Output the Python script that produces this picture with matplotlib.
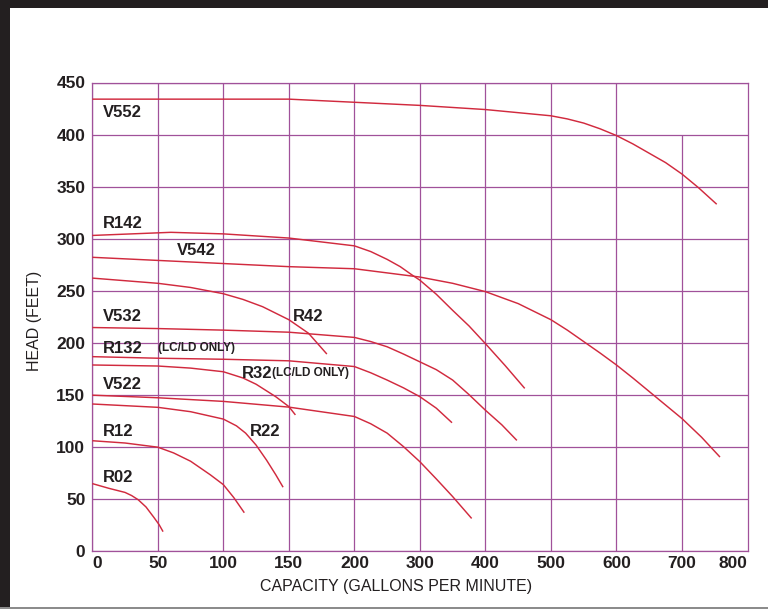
import numpy as np
import matplotlib
matplotlib.use('Agg')
import matplotlib.pyplot as plt
from matplotlib.patches import Rectangle

# ---------------- data (capacity gpm, head feet) ----------------
V552_x = [0, 100, 150, 200, 300, 400, 500, 525, 550, 575, 600, 625, 650, 675, 700, 725, 753]
V552_y = [434, 434, 434, 431, 428, 424, 418, 415, 411, 405.5, 399, 391, 382, 373, 362, 349, 333]

R142_x = [0, 30, 60, 100, 150, 200, 225, 250, 270, 288, 300, 325, 350, 375, 400, 430, 460]
R142_y = [303, 304.5, 306, 304.5, 300.5, 293, 287.5, 280, 273, 265, 260, 246.5, 231, 216, 199, 178, 156]

V542_x = [0, 50, 100, 150, 200, 300, 350, 400, 450, 500, 525, 550, 575, 600, 625, 650, 675, 700, 730, 758]
V542_y = [282, 279, 276, 273, 271, 263, 257, 249, 237.5, 222, 212, 201, 190, 178.5, 166, 153, 140, 127, 109, 90]

R42_x = [0, 50, 75, 100, 115, 130, 150, 165, 179]
R42_y = [262, 257, 253, 247, 241.5, 234.5, 222, 209, 189]

V532_x = [0, 50, 100, 150, 200, 225, 250, 275, 300, 325, 350, 375, 400, 425, 448]
V532_y = [214.5, 213.5, 212, 210, 205, 201, 196, 189, 181.5, 174, 164, 150, 135, 121, 106]

R132_x = [0, 50, 100, 150, 200, 225, 250, 275, 300, 325, 349]
R132_y = [186.5, 185, 184, 182.5, 177, 171, 164, 156.5, 148, 137, 123]

R32_x = [0, 50, 75, 100, 115, 125, 140, 150, 155]
R32_y = [178.5, 177.5, 175.5, 172, 166, 160, 148, 138.5, 130.5]

V522_x = [0, 50, 100, 150, 200, 225, 250, 275, 300, 325, 350, 379]
V522_y = [149.5, 147, 143.5, 138, 129, 122, 113, 100, 85.5, 69, 52, 31]

R22_x = [0, 50, 75, 100, 110, 117, 125, 133, 140, 145.6]
R22_y = [141, 137.8, 133.6, 126.5, 120, 113, 101.5, 87, 73, 61]

R12_x = [0, 25, 50, 62, 75, 90, 100, 108, 116]
R12_y = [105.7, 103.5, 99.5, 94, 86, 73, 63.5, 51, 36.5]

R02_x = [0, 12.5, 25, 30, 35, 41, 47, 51, 54]
R02_y = [64.5, 60, 56, 53, 49, 42, 32, 25, 18.3]

x_ticks = [0, 50, 100, 150, 200, 300, 400, 500, 600, 700, 800]
x_tick_labels = ['0', '50', '100', '150', '200', '300', '400', '500', '600', '700', '800']
y_ticks = [0, 50, 100, 150, 200, 250, 300, 350, 400, 450]
y_tick_labels = ['0', '50', '100', '150', '200', '250', '300', '350', '400', '450']

series = [
    (V552_x, V552_y), (R142_x, R142_y), (V542_x, V542_y), (R42_x, R42_y),
    (V532_x, V532_y), (R132_x, R132_y), (R32_x, R32_y), (V522_x, V522_y),
    (R22_x, R22_y), (R12_x, R12_y), (R02_x, R02_y),
]

# curve labels: (text, x, y, fontsize)
labels = [
    ('V552', 8.2, 421.5, 12), ('R142', 8.2, 314.5, 12), ('V542', 64.4, 289, 12),
    ('V532', 8.2, 225.5, 12), ('R42', 152.7, 225.5, 12), ('R132', 8.2, 194, 12),
    ('(LC/LD ONLY)', 50.2, 194.5, 8.5), ('R32', 114.3, 170.6, 12),
    ('(LC/LD ONLY)', 137.2, 170.6, 8.5), ('V522', 8.2, 159.7, 12),
    ('R12', 8.2, 115, 12), ('R22', 120.6, 115, 12), ('R02', 8.2, 70, 12),
]

# ---------------- scale: 0-200 by 50, 200-800 by 100 at equal spacing ----------------
def fwd(x):
    x = np.asarray(x, dtype=float)
    return np.where(x <= 200, x, 200 + (x - 200) / 2.0)

def inv(x):
    x = np.asarray(x, dtype=float)
    return np.where(x <= 200, x, 200 + (x - 200) * 2.0)

GRID = '#a0519a'
CURVE = '#d12a3e'
TXT = '#231f20'
plt.rcParams['font.family'] = ['Liberation Sans', 'DejaVu Sans']

fig = plt.figure(figsize=(7.68, 6.09), dpi=100)
fig.patch.set_facecolor('white')
ax = fig.add_axes([92.3 / 768, 1 - 550.7 / 609, (747.5 - 92.3) / 768, (550.7 - 82.5) / 609])
ax.set_xscale('function', functions=(fwd, inv))
ax.set_xlim(0, 800)
ax.set_ylim(0, 450)

# grid
for xv in x_ticks[:-2]:
    ax.axvline(xv, color=GRID, lw=0.9, zorder=1)
ax.vlines(700, 0, 400, color=GRID, lw=0.9, zorder=1)
for yv in y_ticks:
    ax.axhline(yv, color=GRID, lw=0.9, zorder=1)
for s in ax.spines.values():
    s.set_color(GRID)
    s.set_linewidth(0.9)

# curves
for xs, ys in series:
    ax.plot(xs, ys, color=CURVE, lw=1.05, zorder=3, solid_capstyle='butt',
            solid_joinstyle='round')

for text, lx, ly, fs in labels:
    ax.text(lx, ly, text, ha='left', va='center', fontsize=fs, fontweight='bold',
            color=TXT, zorder=4)

ax.set_xticks(x_ticks)
ax.set_xticklabels(x_tick_labels)
ax.set_yticks(y_ticks)
ax.set_yticklabels(y_tick_labels)
ax.tick_params(axis='both', length=0, labelsize=12.5, labelcolor=TXT)
ax.tick_params(axis='x', pad=4)
ax.tick_params(axis='y', pad=5)
for t in ax.get_xticklabels() + ax.get_yticklabels():
    t.set_fontweight('bold')
xl = ax.get_xticklabels()
xl[0].set_ha('left')
xl[-1].set_ha('right')

fig.text(396 / 768, 1 - 586 / 609, 'CAPACITY (GALLONS PER MINUTE)', ha='center', va='center',
         fontsize=11.5, color=TXT)
fig.text(34 / 768, 1 - 321 / 609, 'HEAD (FEET)', ha='center', va='center', rotation=90,
         fontsize=11.5, color=TXT)

# dark frame on top and left, grey line at bottom
fig.patches.append(Rectangle((0, 0), 10 / 768, 1, transform=fig.transFigure,
                             facecolor=TXT, edgecolor='none', zorder=10))
fig.patches.append(Rectangle((0, 1 - 8 / 609), 1, 8 / 609, transform=fig.transFigure,
                             facecolor=TXT, edgecolor='none', zorder=10))
fig.patches.append(Rectangle((0, 0), 1, 2 / 609, transform=fig.transFigure,
                             facecolor='#8c8c8c', edgecolor='none', zorder=10))

fig.savefig('out.png', dpi=100)
